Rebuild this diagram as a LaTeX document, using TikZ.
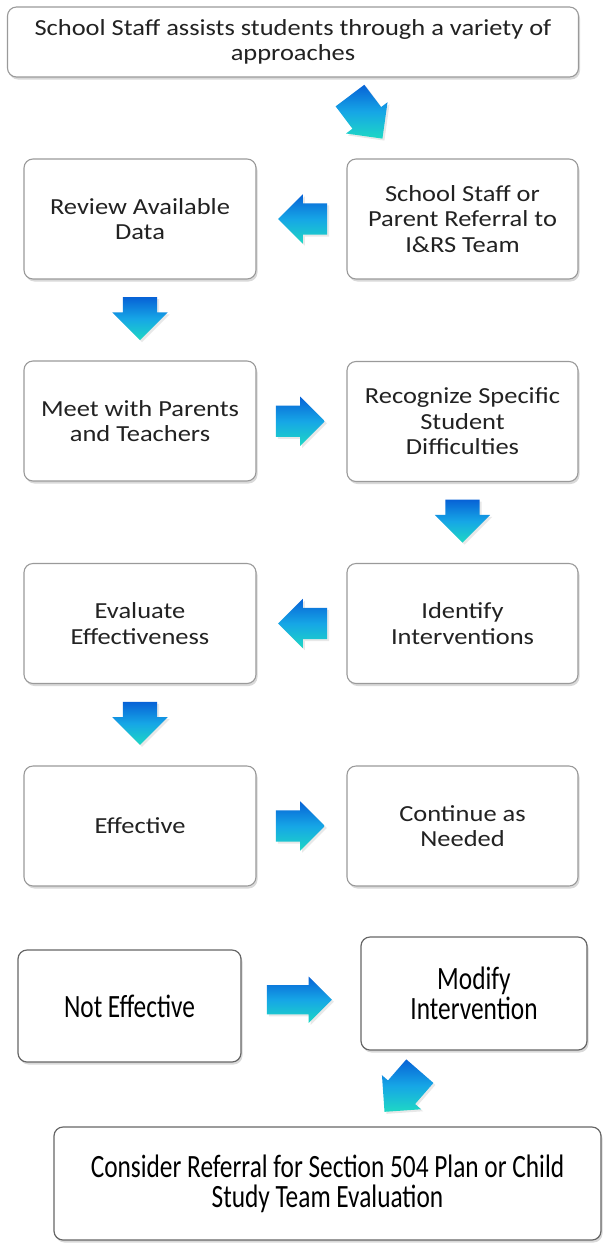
\documentclass[tikz,border=0pt]{standalone}
\usepackage{fontspec}
\setmainfont{Carlito}[FakeStretch=1.15]
\newfontfamily\narrowfont{Carlito}[FakeStretch=0.78]
\usetikzlibrary{calc,shapes.arrows,shadows}
\definecolor{arrowblue}{HTML}{0762D6}
\definecolor{arrowsky}{HTML}{16A6E6}
\definecolor{arrowteal}{HTML}{1ED8C4}
\definecolor{boxline}{HTML}{9A9A9A}
\definecolor{boxtext}{HTML}{222222}
\begin{document}
\begin{tikzpicture}[
			x=1pt, y=-1pt,
			flowbox/.style={draw=boxline, line width=1.1pt, rounded corners=9pt, fill=white,
					drop shadow={shadow xshift=1.5pt, shadow yshift=-2.5pt, opacity=.3},
					align=center, inner sep=0pt, text=boxtext,
					font=\fontsize{23}{25.5}\selectfont},
			lastbox/.style={flowbox, draw=black!60, line width=1.2pt, text=black,
					font=\narrowfont\fontsize{32.5}{30}\selectfont},
			blockarr/.style={single arrow, single arrow head indent=0pt, draw=none,
					top color=arrowblue, bottom color=arrowteal, middle color=arrowsky,
					drop shadow={shadow xshift=2pt, shadow yshift=-2pt, opacity=.18}},
			rightarr/.style={blockarr, minimum height=49pt, minimum width=49pt,
					inner xsep=0pt, inner ysep=15.5pt, single arrow head extend=9pt, xshift=-9pt},
			leftarr/.style={rightarr, shape border rotate=180, xshift=18pt},
			downarr/.style={blockarr, minimum height=43pt, minimum width=55pt,
					inner xsep=17pt, inner ysep=0pt, single arrow head extend=10.5pt,
					shape border rotate=270, yshift=10pt},
			slantarr/.style={blockarr, shape border uses incircle, minimum height=46pt, minimum width=42pt,
					inner xsep=0pt, inner ysep=12.5pt, single arrow head extend=8pt}
		]
		\useasboundingbox (0,0) rectangle (603,1243);

		\node[flowbox, minimum width=571pt, minimum height=70pt] (approaches) at (293,42)
			{School Staff assists students through a variety of\\approaches};
		\node[flowbox, minimum width=231pt, minimum height=120pt] (referral) at (462.5,219)
			{School Staff or\\Parent Referral to\\I\&RS Team};
		\node[flowbox, minimum width=232pt, minimum height=120pt] (review) at (140,219)
			{Review Available\\Data};
		\node[flowbox, minimum width=232pt, minimum height=120pt] (meet) at (140,421)
			{Meet with Parents\\and Teachers};
		\node[flowbox, minimum width=231pt, minimum height=120pt] (recognize) at (462.5,421.5)
			{Recognize Specific\\Student\\Difficulties};
		\node[flowbox, minimum width=231pt, minimum height=120pt] (identify) at (462.5,623.5)
			{Identify\\Interventions};
		\node[flowbox, minimum width=232pt, minimum height=120pt] (evaluate) at (140,623.5)
			{Evaluate\\Effectiveness};
		\node[flowbox, minimum width=232pt, minimum height=120pt] (effective) at (140,826)
			{Effective};
		\node[flowbox, minimum width=231pt, minimum height=120pt] (continue) at (462.5,826)
			{Continue as\\Needed};
		\node[lastbox, minimum width=223pt, minimum height=112pt] (noteffective) at (129.5,1006)
			{Not Effective};
		\node[lastbox, minimum width=226pt, minimum height=113pt] (modify) at (474,993.5)
			{Modify\\Intervention};
		\node[lastbox, minimum width=547pt, minimum height=113pt] (consider) at (327.5,1183.5)
			{Consider Referral for Section 504 Plan or Child\\Study Team Evaluation};

		\node[slantarr, shape border rotate=-53] (a1) at ($(approaches.south)!0.4!(referral.north)$) {};
		\node[leftarr] (a2) at ($(referral.west)!0.5!(review.east)$) {};
		\node[downarr] (a3) at ($(review.south)!0.5!(meet.north)$) {};
		\node[rightarr] (a4) at ($(meet.east)!0.5!(recognize.west)$) {};
		\node[downarr] (a5) at ($(recognize.south)!0.5!(identify.north)$) {};
		\node[leftarr] (a6) at ($(identify.west)!0.5!(evaluate.east)$) {};
		\node[downarr] (a7) at ($(evaluate.south)!0.5!(effective.north)$) {};
		\node[rightarr] (a8) at ($(effective.east)!0.5!(continue.west)$) {};
		\node[rightarr, minimum height=65pt, minimum width=46pt, inner ysep=14.5pt, single arrow head extend=8.5pt]
			(a9) at ($(noteffective.east)!0.5!(modify.west)$) {};
		\node[slantarr, shape border rotate=229] (a10) at ($(modify.south)!0.45!(consider.north)$) {};
	\end{tikzpicture}
\end{document}
